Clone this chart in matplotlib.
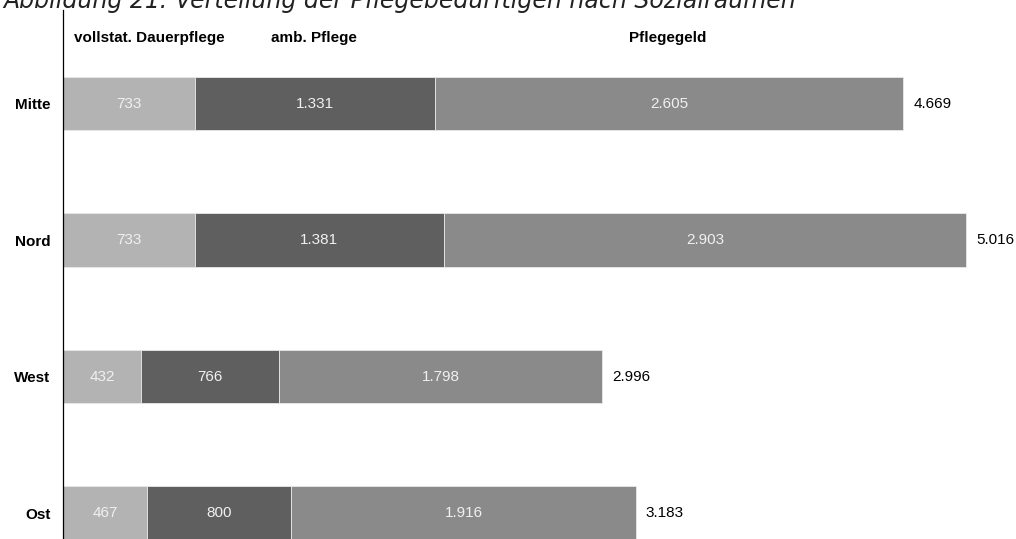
import matplotlib
matplotlib.use("Agg")
import matplotlib.pyplot as plt

regions = ["Mitte", "Nord", "West", "Ost"]
series_names = ["vollstat. Dauerpflege", "amb. Pflege", "Pflegegeld"]
vollstat = [733, 733, 432, 467]
ambulant = [1331, 1381, 766, 800]
pflegegeld = [2605, 2903, 1798, 1916]
totals = [4669, 5016, 2996, 3183]
colors = ["#b3b3b3", "#5f5f5f", "#8a8a8a"]

plt.rcParams["font.family"] = ["Liberation Sans", "DejaVu Sans"]

fig = plt.figure(figsize=(10.16, 5.39), dpi=100)
ax = fig.add_axes([63 / 1016, 0, 953 / 1016, 529 / 539])

def fmt(v):
    return f"{v:,}".replace(",", ".")

ypos = list(range(len(regions)))
left = [0] * len(regions)
for vals, col in zip([vollstat, ambulant, pflegegeld], colors):
    bars = ax.barh(ypos, vals, left=left, height=0.39, color=col,
                   edgecolor="#e8e8e8", linewidth=0.6)
    for b, v in zip(bars, vals):
        ax.text(b.get_x() + b.get_width() / 2, b.get_y() + b.get_height() / 2,
                fmt(v), ha="center", va="center", color="#f0f0f0", fontsize=11)
    left = [l + v for l, v in zip(left, vals)]

for y, l, t in zip(ypos, left, totals):
    ax.annotate(fmt(t), (l, y), xytext=(7, 0), textcoords="offset points",
                ha="left", va="center", fontsize=11, color="black")

# column headers above the first bar
header_x = [478, 1394, 3360]
for x, name in zip(header_x, series_names):
    ax.text(x, -0.48, name, ha="center", va="center", fontsize=11,
            fontweight="bold", color="black")

ax.set_ylim(3.19, -0.685)
ax.set_xlim(0, 5294)
ax.set_yticks(ypos)
ax.set_yticklabels(regions, fontweight="bold", fontsize=11)
ax.tick_params(axis="y", length=0, pad=9)
ax.set_xticks([])
for s in ["top", "right", "bottom"]:
    ax.spines[s].set_visible(False)
ax.spines["left"].set_linewidth(0.9)
ax.patch.set_alpha(0)

fig.text(0.003, 1 - 8 / 539, "Abbildung 21: Verteilung der Pflegebedürftigen nach Sozialräumen",
         ha="left", va="baseline", fontsize=17, style="italic", color="#222222",
         family="DejaVu Sans")

fig.savefig("out.png", dpi=100)
